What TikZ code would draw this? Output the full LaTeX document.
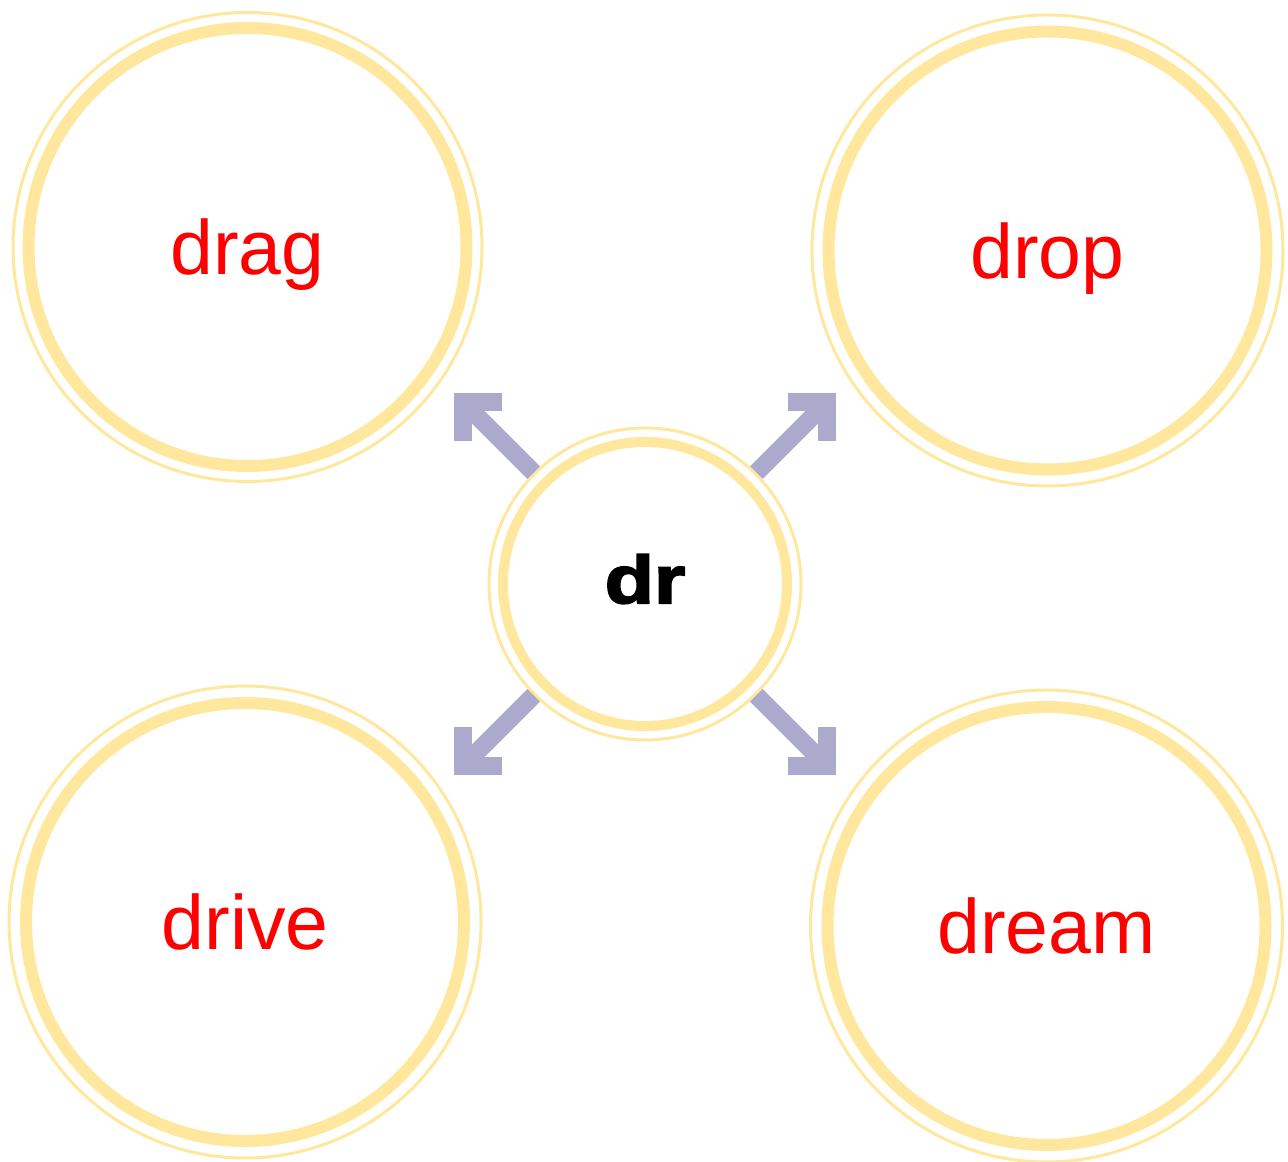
\documentclass[tikz,border=0pt]{standalone}
\usepackage{fontspec}
\setmainfont{Liberation Sans}
\newfontfamily\rootfont[FakeStretch=1.2,FakeBold=3]{Liberation Sans}
\definecolor{ringgold}{HTML}{FFE89E}
\definecolor{arrowblue}{HTML}{ACAACC}

\begin{document}
\begin{tikzpicture}[x=1pt, y=1pt,
		ring/.style={circle, draw=ringgold, line width=12pt, inner sep=0pt, minimum size=438pt,
			text=red, font=\fontsize{77pt}{80pt}\selectfont, text height=56pt, text depth=0pt},
		halo/.style={draw=ringgold, line width=3pt},
		shaft/.style={draw=arrowblue, line width=18pt},
		barb/.style={draw=arrowblue, line width=18pt, line join=miter}]
		\useasboundingbox (0,0) rectangle (1288,1162);
		% centre and the four words
		\node[ring, minimum size=284pt, line width=10pt, text=black, text height=38pt,
			font=\rootfont\bfseries\fontsize{67pt}{70pt}\selectfont] (dr) at (645,578) {dr};
		\node[ring] (drag) at (247.5,915) {drag};
		\node[ring] (drop) at (1047.5,911.5) {drop};
		\node[ring] (drive) at (245,240) {drive};
		\node[ring] (dream) at (1046.5,236) {dream};
		\foreach \n/\r in {dr/156, drag/234.5, drop/235.5, drive/236, dream/236}
			\draw[halo] (\n) circle[radius=\r];
		% arrows out of the centre
		\foreach \a in {45,135,225,315} {
			\path (dr) ++(\a:157.5pt) coordinate (s) (dr) ++(\a:257.3pt) coordinate (k);
			\draw[shaft] (s) -- (k);
			\draw[barb] (k) ++(\a+135:39pt) -- (k) -- ++(\a-135:39pt);
		}
\end{tikzpicture}
\end{document}
